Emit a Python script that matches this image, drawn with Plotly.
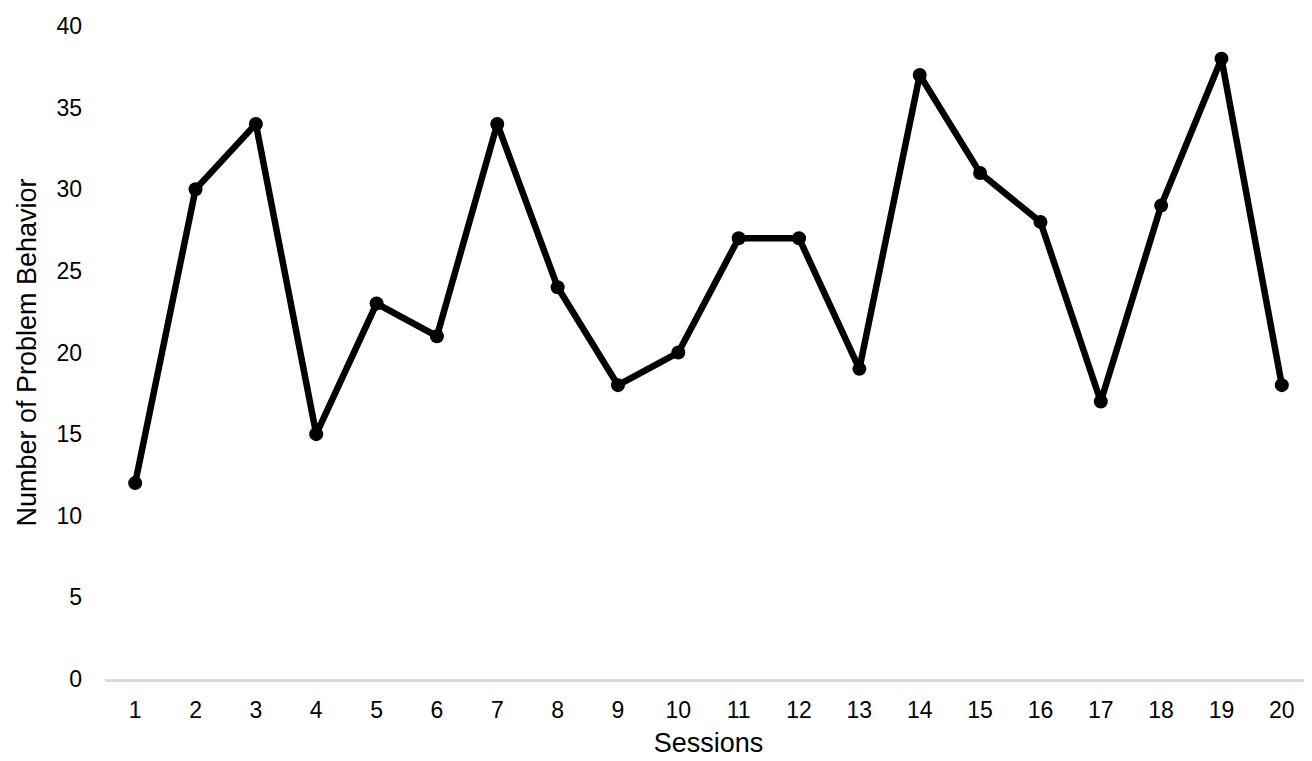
import plotly.graph_objects as go

sessions = [str(i) for i in range(1, 21)]
behavior = [12, 30, 34, 15, 23, 21, 34, 24, 18, 20, 27, 27, 19, 37, 31, 28, 17, 29, 38, 18]
y_ticks = [0, 5, 10, 15, 20, 25, 30, 35, 40]

fig = go.Figure()
fig.add_trace(go.Scatter(
    x=sessions, y=behavior, mode="lines+markers",
    line=dict(color="black", width=6.5),
    marker=dict(color="black", size=14),
    showlegend=False,
))
fig.update_layout(
    width=1304, height=753,
    margin=dict(l=97, r=0, t=18, b=82),
    paper_bgcolor="white", plot_bgcolor="white",
    font=dict(family="Liberation Sans, Arial, sans-serif", size=23, color="black"),
    xaxis=dict(
        type="category", range=[-0.5, 19.5], showgrid=False, showline=True,
        linecolor="#d9d9d9", linewidth=3,
        ticks="", ticklabelstandoff=8,
        title=dict(text="Sessions", font=dict(size=27), standoff=12),
    ),
    yaxis=dict(
        range=[0, 40], tickvals=y_ticks, showgrid=False, zeroline=False, showline=False,
        ticks="", ticklabelstandoff=22,
        title=dict(text="Number of Problem Behavior", font=dict(size=27), standoff=11),
    ),
)
fig.write_html("out.html")
